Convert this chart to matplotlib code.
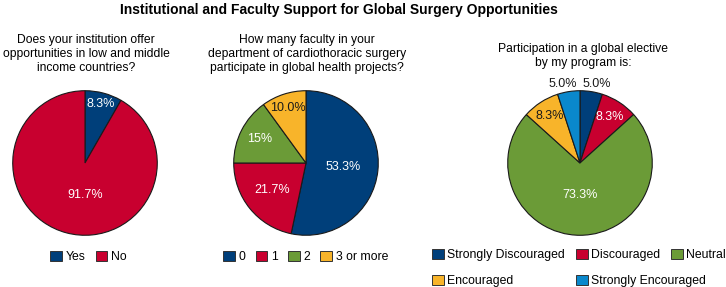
import numpy as np
import matplotlib.pyplot as plt
from matplotlib.patches import Patch

plt.rcParams['font.family'] = ['Liberation Sans', 'DejaVu Sans']

# colours used in the figure
navy = '#003f7a'
red = '#c8002f'
green = '#6b9b37'
yellow = '#f8b42a'
blue = '#0a88cc'

# data
q1_labels = ['Yes', 'No']
q1_values = [8.3, 91.7]
q1_pct = ['8.3%', '91.7%']

q2_labels = ['0', '1', '2', '3 or more']
q2_values = [53.3, 21.7, 15.0, 10.0]
q2_pct = ['53.3%', '21.7%', '15%', '10.0%']

q3_labels = ['Strongly Discouraged', 'Discouraged', 'Neutral', 'Encouraged', 'Strongly Encouraged']
q3_values = [5.0, 8.3, 73.3, 8.3, 5.0]
q3_pct = ['5.0%', '8.3%', '73.3%', '8.3%', '5.0%']

titles = ['Does your institution offer\nopportunities in low and middle\nincome countries?',
          'How many faculty in your\ndepartment of cardiothoracic surgery\nparticipate in global health projects?',
          'Participation in a global elective\nby my program is:']

W, H = 726, 287
fig = plt.figure(figsize=(W / 100, H / 100), dpi=100)

R = 73


def pie_axes(cx, cy):
    return fig.add_axes([(cx - R) / W, (H - cy - R) / H, 2 * R / W, 2 * R / H])


def draw_pie(ax, values, colors, pct, dist, txtcol, angle_fix=None):
    wedges, _ = ax.pie(values, colors=colors, startangle=90, counterclock=False,
                       wedgeprops=dict(edgecolor='#1a1a1a', linewidth=0.8))
    ax.set_xlim(-1.01, 1.01)
    ax.set_ylim(-1.01, 1.01)
    ax.set_aspect('equal')
    for i, w in enumerate(wedges):
        ang = np.deg2rad((w.theta1 + w.theta2) / 2)
        if angle_fix is not None and angle_fix[i] is not None:
            ang = np.deg2rad(angle_fix[i])
        ax.text(dist[i] * np.cos(ang), dist[i] * np.sin(ang), pct[i],
                ha='center', va='center', fontsize=9, color=txtcol[i])
    return wedges


ax1 = pie_axes(85, 163)
draw_pie(ax1, q1_values, [navy, red], q1_pct, [0.85, 0.44], ['white', 'white'],
         angle_fix=[None, -90])

ax2 = pie_axes(306, 163)
draw_pie(ax2, q2_values, [navy, red, green, yellow], q2_pct, [0.52, 0.6, 0.72, 0.8],
         ['white', 'white', 'white', '#1a1a1a'])

ax3 = pie_axes(580, 163)
draw_pie(ax3, q3_values, [navy, red, green, yellow, blue], q3_pct,
         [1.12, 0.76, 0.44, 0.77, 1.12],
         ['#1a1a1a', 'white', 'white', '#1a1a1a', '#1a1a1a'],
         angle_fix=[78, None, None, None, 102])

# titles
fig.text(339 / W, 1 - 10 / H, 'Institutional and Faculty Support for Global Surgery Opportunities',
         ha='center', va='center', fontsize=10, fontweight='bold')
fig.text(86 / W, 1 - 54 / H, titles[0], ha='center', va='center', fontsize=8.7, linespacing=1.25)
fig.text(307 / W, 1 - 54 / H, titles[1], ha='center', va='center', fontsize=8.7, linespacing=1.25)
fig.text(583 / W, 1 - 56 / H, titles[2], ha='center', va='center', fontsize=8.7, linespacing=1.25)


def handles(colors, labels):
    return [Patch(facecolor=c, edgecolor='#333333', linewidth=0.7, label=l) for c, l in zip(colors, labels)]


leg_kw = dict(frameon=False, fontsize=8.8, handlelength=0.95, handleheight=0.9,
              handletextpad=0.3, borderpad=0, borderaxespad=0, columnspacing=0.85)

fig.legend(handles=handles([navy, red], q1_labels), loc='center left', ncol=2,
           bbox_to_anchor=(50 / W, 1 - 257 / H), **leg_kw)
fig.legend(handles=handles([navy, red, green, yellow], q2_labels), loc='center left', ncol=4,
           bbox_to_anchor=(223 / W, 1 - 257 / H), **leg_kw)

# third legend laid out as three aligned columns
h3 = handles([navy, red, green, yellow, blue], q3_labels)
for col, x0 in zip([[h3[0], h3[3]], [h3[1], h3[4]], [h3[2]]], [432, 576, 671]):
    fig.legend(handles=col, loc='upper left', ncol=1, labelspacing=1.1,
               bbox_to_anchor=(x0 / W, 1 - 249 / H), **leg_kw)

fig.savefig('out.png', dpi=100)
